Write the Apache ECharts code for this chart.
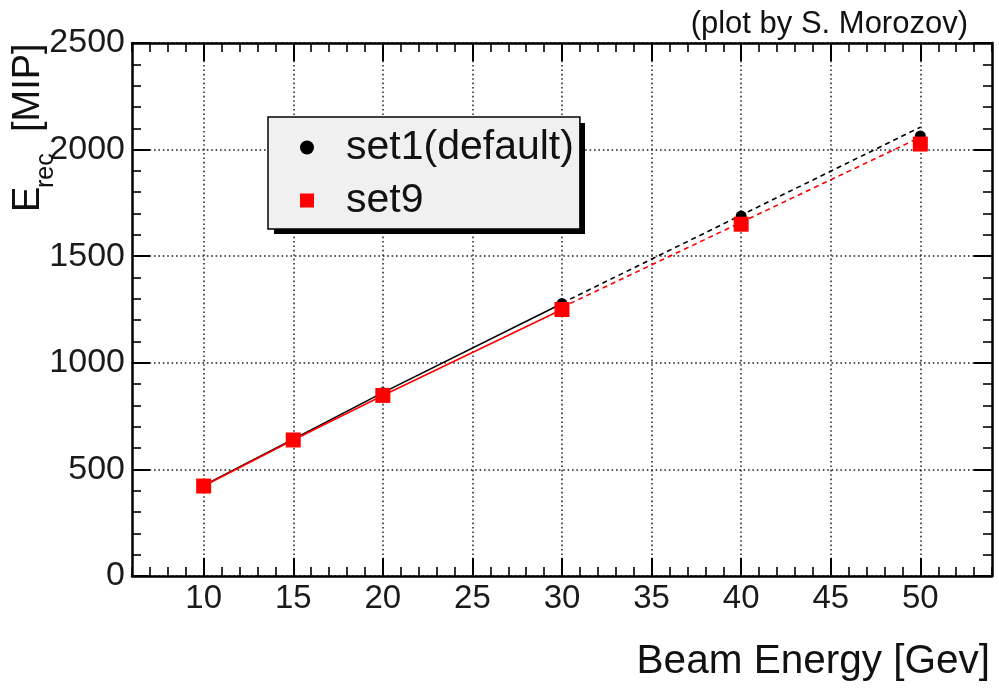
<!DOCTYPE html>
<html>
<head>
<meta charset="utf-8">
<script src="https://cdn.jsdelivr.net/npm/echarts@6/dist/echarts.min.js"></script>
<style>
html,body{margin:0;padding:0;background:#fff;}
#chart{width:999px;height:688px;}
</style>
</head>
<body>
<div id="chart"></div>
<script>
// ---- data ----
var beamEnergy = [10, 15, 20, 30, 40, 50];
var set1Values = [425, 642, 860, 1278, 1688, 2064];
var set9Values = [422, 638, 847, 1250, 1650, 2026];
// solid connecting lines cover the first four points
var solidCount = 4;
// dashed extrapolation lines (start/end energies and values)
var fitEnergy = [30, 50];
var set1Fit = [1280, 2105];
var set9Fit = [1260, 2058];
// axis ticks
var xTickValues = [10, 15, 20, 25, 30, 35, 40, 45, 50];
var xRange = [6, 54];
var yRange = [0, 2500];
var yStep = 500;

var FONT = "'Liberation Sans', Arial, Helvetica, sans-serif";

function pairs(xs, ys, n) {
  var out = [];
  var len = n == null ? xs.length : n;
  for (var i = 0; i < len; i++) out.push([xs[i], ys[i]]);
  return out;
}

var gridStyle = { color: '#222', width: 1.5, type: [1.6, 2.8] };
var frameLine = { show: true, lineStyle: { color: '#000', width: 2.5 } };

function majorX(pos, withLabels) {
  return {
    type: 'value', position: pos, min: xRange[0], max: xRange[1],
    axisLine: frameLine,
    axisTick: { show: true, inside: true, length: 18, customValues: xTickValues,
      lineStyle: { color: '#000', width: 2 } },
    axisLabel: withLabels ? { show: true, customValues: xTickValues, fontSize: 33,
      fontFamily: FONT, color: '#1a1a1a', margin: 6, formatter: function (v) { return String(v); } } : { show: false },
    splitLine: withLabels ? { show: true, lineStyle: gridStyle } : { show: false }
  };
}
function minorX(pos) {
  return {
    type: 'value', position: pos, min: xRange[0], max: xRange[1], interval: 1,
    axisLine: { show: false },
    axisTick: { show: true, inside: true, length: 9, lineStyle: { color: '#000', width: 1.6 } },
    axisLabel: { show: false },
    splitLine: { show: false }
  };
}
function yAx(pos, withLabels) {
  return {
    type: 'value', position: pos, min: yRange[0], max: yRange[1], interval: yStep,
    axisLine: frameLine,
    axisTick: { show: true, inside: true, length: 18, lineStyle: { color: '#000', width: 2 } },
    minorTick: { show: true, splitNumber: 5, length: 9, lineStyle: { color: '#000', width: 1.6 } },
    axisLabel: withLabels ? { show: true, fontSize: 34, fontFamily: FONT, color: '#1a1a1a', margin: 7,
      formatter: function (v) { return String(v); } } : { show: false },
    splitLine: withLabels ? { show: true, lineStyle: gridStyle } : { show: false }
  };
}

var chart = echarts.init(document.getElementById('chart'), null, { renderer: 'canvas' });
chart.setOption({
  animation: false,
  backgroundColor: '#fff',
  grid: { left: 132, right: 7, top: 43, bottom: 112, containLabel: false },
  xAxis: [majorX('bottom', true), minorX('bottom'), majorX('top', false), minorX('top')],
  yAxis: [yAx('left', true), yAx('right', false)],
  legend: {
    left: 268, top: 117, orient: 'vertical', z: 10,
    selectedMode: false,
    data: [{ name: 'set1(default)', icon: 'circle' }, { name: 'set9', icon: 'rect' }],
    itemWidth: 14, itemHeight: 14, itemGap: 12,
    padding: [10, 6, 8, 32],
    backgroundColor: '#f0f0f0', borderColor: '#000', borderWidth: 1.5, borderRadius: 0,
    textStyle: { fontSize: 41, lineHeight: 41, fontFamily: FONT, color: '#111', padding: [0, 0, 0, 27] }
  },
  graphic: [
    { type: 'rect', z: 5, shape: { x: 274, y: 123, width: 311, height: 111 }, style: { fill: '#000' } },
    { type: 'text', x: 968, y: 24, style: { text: '(plot by S. Morozov)', font: '31px ' + FONT, fill: '#111', align: 'right', verticalAlign: 'middle' } },
    { type: 'text', x: 990, y: 662, style: { text: 'Beam Energy [Gev]', font: '40.5px ' + FONT, fill: '#111', align: 'right', verticalAlign: 'middle' } },
    { type: 'text', x: 28.5, y: 212, rotation: Math.PI / 2, style: { text: 'E', font: '38px ' + FONT, fill: '#111', align: 'left', verticalAlign: 'middle' } },
    { type: 'text', x: 46.5, y: 188, rotation: Math.PI / 2, style: { text: 'rec', font: '25px ' + FONT, fill: '#111', align: 'left', verticalAlign: 'middle' } },
    { type: 'text', x: 28.8, y: 132, rotation: Math.PI / 2, style: { text: '[MIP]', font: '38px ' + FONT, fill: '#111', align: 'left', verticalAlign: 'middle' } }
  ],
  series: [
    { name: 'set1 line', type: 'line', data: pairs(beamEnergy, set1Values, solidCount), showSymbol: false,
      lineStyle: { color: '#000', width: 1.6 }, z: 2, silent: true },
    { name: 'set9 line', type: 'line', data: pairs(beamEnergy, set9Values, solidCount), showSymbol: false,
      lineStyle: { color: '#ff0000', width: 1.6 }, z: 2, silent: true },
    { name: 'set1 fit', type: 'line', data: pairs(fitEnergy, set1Fit), showSymbol: false,
      lineStyle: { color: '#000', width: 1.6, type: [5, 4] }, z: 2, silent: true },
    { name: 'set9 fit', type: 'line', data: pairs(fitEnergy, set9Fit), showSymbol: false,
      lineStyle: { color: '#ff0000', width: 1.6, type: [5, 4] }, z: 2, silent: true },
    { name: 'set1(default)', type: 'scatter', data: pairs(beamEnergy, set1Values), symbol: 'circle', symbolSize: 11,
      itemStyle: { color: '#000', opacity: 1 }, z: 3 },
    { name: 'set9', type: 'scatter', data: pairs(beamEnergy, set9Values), symbol: 'rect', symbolSize: 15,
      itemStyle: { color: '#ff0000', opacity: 1 }, z: 4 }
  ]
});
</script>
</body>
</html>
